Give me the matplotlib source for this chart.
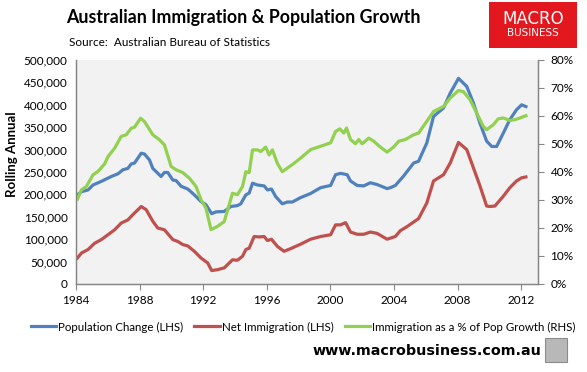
import numpy as np
import matplotlib.pyplot as plt
from matplotlib.patches import Rectangle

# Population change, rolling annual (LHS)
pop_years = [1984.09, 1984.34, 1984.76, 1985.07, 1985.59, 1986.22, 1986.64, 1986.95, 1987.26,
             1987.47, 1987.68, 1988.10, 1988.31, 1988.62, 1988.83, 1989.35, 1989.56, 1989.77,
             1990.09, 1990.29, 1990.61, 1991.03, 1991.44, 1991.86, 1992.17, 1992.53, 1992.80,
             1993.32, 1993.74, 1994.15, 1994.36, 1994.68, 1994.89, 1995.10, 1995.41, 1995.83,
             1996.04, 1996.29, 1996.56, 1996.97, 1997.29, 1997.60, 1998.13, 1998.75, 1999.38,
             2000.01, 2000.32, 2000.63, 2001.05, 2001.26, 2001.68, 2002.09, 2002.51, 2002.93,
             2003.56, 2003.77, 2004.08, 2004.60, 2005.23, 2005.54, 2006.06, 2006.48, 2007.11,
             2007.53, 2008.05, 2008.57, 2008.99, 2009.40, 2009.82, 2010.14, 2010.45, 2010.87,
             2011.28, 2011.70, 2012.02, 2012.29]
pop_change = [199, 206, 210, 221, 229, 240, 246, 255, 258, 268, 270, 292, 290, 277, 258, 240,
              249, 249, 232, 231, 218, 212, 199, 184, 177, 157, 161, 162, 173, 175, 179, 199,
              203, 225, 221, 219, 210, 212, 195, 179, 183, 183, 193, 202, 215, 220, 244, 247,
              244, 230, 220, 219, 226, 222, 213, 215, 220, 241, 270, 274, 315, 374, 393, 426,
              459, 441, 404, 359, 319, 307, 307, 337, 367, 389, 400, 396]

# Net immigration, rolling annual (LHS)
mig_years = [1984.09, 1984.34, 1984.76, 1985.17, 1985.59, 1986.01, 1986.43, 1986.84, 1987.26,
             1987.58, 1988.10, 1988.41, 1988.83, 1989.14, 1989.56, 1990.09, 1990.40, 1990.71,
             1991.03, 1991.44, 1991.86, 1992.28, 1992.53, 1992.90, 1993.32, 1993.84, 1994.15,
             1994.47, 1994.68, 1994.89, 1995.20, 1995.52, 1995.83, 1996.04, 1996.29, 1996.66,
             1997.08, 1997.50, 1998.13, 1998.75, 1999.38, 2000.01, 2000.32, 2000.63, 2000.95,
             2001.26, 2001.68, 2002.09, 2002.51, 2002.93, 2003.56, 2004.08, 2004.39, 2004.81,
             2005.54, 2006.06, 2006.48, 2007.11, 2007.53, 2008.05, 2008.57, 2008.88, 2009.40,
             2009.82, 2010.03, 2010.34, 2010.87, 2011.28, 2011.70, 2012.02, 2012.29]
net_migration = [58, 69, 77, 91, 99, 110, 121, 136, 143, 155, 173, 166, 140, 125, 121, 99, 95,
                 88, 85, 73, 58, 47, 30, 32, 36, 54, 53, 62, 77, 80, 106, 105, 106, 97, 100, 84,
                 73, 79, 89, 100, 106, 110, 132, 132, 137, 116, 111, 111, 116, 113, 100, 106,
                 119, 128, 146, 181, 230, 244, 270, 316, 300, 270, 219, 174, 173, 174, 196, 215,
                 230, 237, 239]

# Immigration as a % of population growth (RHS)
pct_years = [1984.09, 1984.34, 1984.65, 1985.07, 1985.38, 1985.80, 1986.01, 1986.43, 1986.84,
             1987.16, 1987.47, 1987.68, 1988.06, 1988.31, 1988.83, 1989.25, 1989.56, 1989.98,
             1990.29, 1990.71, 1991.13, 1991.55, 1991.86, 1992.17, 1992.49, 1992.90, 1993.32,
             1993.84, 1994.15, 1994.47, 1994.68, 1994.89, 1995.10, 1995.41, 1995.62, 1995.93,
             1996.14, 1996.35, 1996.66, 1996.97, 1997.29, 1997.71, 1998.13, 1998.75, 1999.38,
             2000.01, 2000.32, 2000.59, 2000.84, 2001.01, 2001.26, 2001.57, 2001.78, 2001.99,
             2002.41, 2002.72, 2003.03, 2003.56, 2003.97, 2004.29, 2004.71, 2005.23, 2005.54,
             2006.06, 2006.48, 2007.11, 2007.53, 2008.05, 2008.36, 2008.78, 2009.20, 2009.61,
             2009.82, 2010.24, 2010.55, 2010.87, 2011.28, 2011.60, 2011.91, 2012.29]
imm_pct = [30.3, 33.6, 34.8, 39.0, 40.2, 42.9, 45.5, 48.5, 52.7, 53.3, 55.6, 56.0, 59.2, 58.0,
           53.3, 51.5, 49.7, 42.0, 40.8, 39.8, 37.8, 34.8, 30.1, 27.1, 19.4, 20.6, 22.3, 32.4,
           31.9, 34.8, 40.1, 39.8, 47.9, 47.9, 47.3, 48.9, 46.1, 47.9, 43.1, 40.1, 41.4, 43.1,
           45.0, 48.0, 49.2, 50.4, 54.5, 55.4, 53.9, 55.7, 51.6, 50.1, 51.6, 50.1, 52.1, 51.0,
           49.4, 47.1, 48.9, 51.0, 51.6, 53.3, 53.9, 58.1, 61.6, 63.4, 66.4, 69.1, 68.7, 65.8,
           61.0, 56.3, 55.1, 56.9, 59.0, 59.3, 58.4, 58.7, 59.3, 60.1]

year_ticks = [1984, 1988, 1992, 1996, 2000, 2004, 2008, 2012]

BLUE = "#4F81BD"
RED = "#C0504D"
GREEN = "#92D050"
AXIS_GRAY = "#868686"
FONT = "Lato"

fig = plt.figure(figsize=(5.87, 3.72), dpi=100)
ax = fig.add_axes([76 / 587, 1 - 284 / 372, 462 / 587, 224 / 372])
ax2 = ax.twinx()

ax.set_facecolor("#F2F2F2")
ax.plot(pop_years, np.array(pop_change) * 1000, color=BLUE, lw=2.3, solid_joinstyle="round")
ax.plot(mig_years, np.array(net_migration) * 1000, color=RED, lw=2.3, solid_joinstyle="round")
ax2.plot(pct_years, imm_pct, color=GREEN, lw=2.3, solid_joinstyle="round")

ax.set_xlim(1984, 2013.05)
ax.set_ylim(0, 500000)
ax2.set_ylim(0, 80)

ax.set_yticks(np.arange(0, 500001, 50000))
ax.set_yticklabels([f"{v:,}" for v in range(0, 500001, 50000)])
ax2.set_yticks(np.arange(0, 81, 10))
ax2.set_yticklabels([f"{v}%" for v in range(0, 81, 10)])
ax.set_xticks(year_ticks)
ax.set_xticklabels([str(y) for y in year_ticks])

for a in (ax, ax2):
    a.spines["top"].set_visible(False)
    for s in ("left", "right", "bottom"):
        a.spines[s].set_color(AXIS_GRAY)
        a.spines[s].set_linewidth(0.9)
ax.tick_params(axis="y", length=0, labelsize=8.5, pad=6)
ax.tick_params(axis="x", length=4, color=AXIS_GRAY, direction="out", labelsize=8.5, pad=4)
ax2.tick_params(axis="y", length=4, color=AXIS_GRAY, direction="out", labelsize=8.5, pad=5)
for lab in ax.get_xticklabels() + ax.get_yticklabels() + ax2.get_yticklabels():
    lab.set_fontfamily(FONT)

ax.set_ylabel("Rolling Annual", fontsize=9.5, fontweight="bold", fontfamily=FONT)
ax.yaxis.set_label_coords(-0.126, 0.58)

# titles
fig.text(66 / 587, 1 - 18 / 372, "Australian Immigration & Population Growth",
         fontsize=12.8, fontweight="bold", fontfamily=FONT, va="center", ha="left")
fig.text(69 / 587, 1 - 43 / 372, "Source:  Australian Bureau of Statistics",
         fontsize=8.5, fontfamily=FONT, va="center", ha="left")

# MacroBusiness logo box
fig.patches.append(Rectangle((489 / 587, 1 - 48 / 372), 88 / 587, 46 / 372,
                             transform=fig.transFigure, facecolor="#E3171E", edgecolor="none"))
fig.text(533 / 587, 1 - 19 / 372, "MACRO", color="white", fontsize=12, fontfamily="DejaVu Sans",
         ha="center", va="center")
fig.text(533 / 587, 1 - 33 / 372, "BUSINESS", color="white", fontsize=7.5, fontfamily="DejaVu Sans",
         ha="center", va="center")

# legend
leg = ax.legend(
    handles=[
        plt.Line2D([], [], color=BLUE, lw=2.3),
        plt.Line2D([], [], color=RED, lw=2.3),
        plt.Line2D([], [], color=GREEN, lw=2.3),
    ],
    labels=["Population Change (LHS)", "Net Immigration (LHS)",
            "Immigration as a % of Pop Growth (RHS)"],
    loc="center", bbox_to_anchor=(303 / 587, 1 - 327 / 372), bbox_transform=fig.transFigure,
    ncol=3, frameon=False, handlelength=2.2, handletextpad=0.15, columnspacing=1.0,
    prop={"family": FONT, "size": 8.3},
)

# footer
fig.text(541 / 587, 1 - 351 / 372, "www.macrobusiness.com.au", fontsize=10.3, fontweight="bold",
         fontfamily="DejaVu Sans", ha="right", va="center")
fig.patches.append(Rectangle((545 / 587, 1 - 362 / 372), 22 / 587, 24 / 372,
                             transform=fig.transFigure, facecolor="#B8B8B8", edgecolor="#8C8C8C",
                             lw=0.8))

fig.savefig("out.png", dpi=100)
